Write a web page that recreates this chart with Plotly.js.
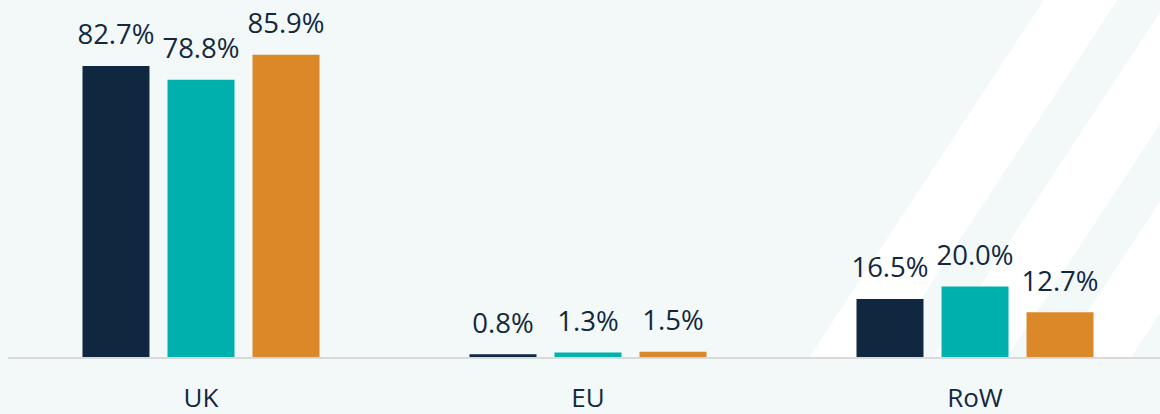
<!DOCTYPE html>
<html>
<head>
<meta charset="utf-8">
<script src="https://cdn.plot.ly/plotly-3.0.1.min.js"></script>
<style>html,body{margin:0;padding:0;background:#f3f9f8;}#chart{width:1160px;height:414px;}</style>
</head>
<body>
<div id="chart"></div>
<script>
const categories = ['UK', 'EU', 'RoW'];
const series1 = [82.7, 0.8, 16.5];
const series2 = [78.8, 1.3, 20.0];
const series3 = [85.9, 1.5, 12.7];
const seriesValues = [series1, series2, series3];
const seriesColors = ['#0f2840', '#00b0ad', '#db8828'];

const textColor = '#12283f';
const font = 'Open Sans, Liberation Sans, sans-serif';

const barTraces = seriesValues.map((vals, i) => ({
  type: 'bar',
  x: categories,
  y: vals,
  offsetgroup: 'g' + i,
  marker: {color: seriesColors[i], line: {width: 0}},
  hoverinfo: 'skip'
}));

const labelTraces = seriesValues.map((vals, i) => ({
  type: 'scatter',
  mode: 'markers+text',
  x: categories,
  y: vals,
  offsetgroup: 'g' + i,
  marker: {size: 22, opacity: 0, color: seriesColors[i]},
  text: vals.map(v => v.toFixed(1) + '%'),
  textposition: 'top center',
  textfont: {family: font, size: 27.5, color: textColor},
  cliponaxis: false,
  hoverinfo: 'skip'
}));

// decorative white diagonal bands (paper coordinates)
function band(x0top, w, slope) {
  const W = 1160, H = 414;
  const xb = x0top + slope * H;
  const px = v => v / W;
  const py = v => 1 - v / H;
  return {
    type: 'path', xref: 'paper', yref: 'paper', layer: 'below',
    path: `M ${px(x0top)} ${py(0)} L ${px(x0top + w)} ${py(0)} L ${px(xb + w)} ${py(H)} L ${px(xb)} ${py(H)} Z`,
    fillcolor: '#ffffff', line: {width: 0}
  };
}
const slope = -0.57;
const shapes = [
  band(1043, 74, slope),
  band(1168, 74, slope),
  band(1293, 74, slope)
];

const layout = {
  width: 1160, height: 414,
  margin: {l: 8, r: 0, t: 0, b: 57},
  paper_bgcolor: '#f3f9f8',
  plot_bgcolor: 'rgba(0,0,0,0)',
  barmode: 'group',
  bargap: 0.341,
  bargroupgap: 0.212,
  scattermode: 'group',
  scattergap: 0.341,
  showlegend: false,
  shapes: shapes,
  xaxis: {
    type: 'category',
    range: [-0.4987, 2.478],
    showline: true, linecolor: '#d9d9d9', linewidth: 2,
    ticks: '', showgrid: false, zeroline: false,
    tickfont: {family: font, size: 26, color: textColor},
    ticklabelstandoff: 17,
    fixedrange: true
  },
  yaxis: {
    range: [0, 101.45],
    visible: false, showgrid: false, zeroline: false,
    fixedrange: true
  },
  font: {family: font, color: textColor}
};

Plotly.newPlot('chart', barTraces.concat(labelTraces), layout, {displayModeBar: false, staticPlot: true});
</script>
</body>
</html>
